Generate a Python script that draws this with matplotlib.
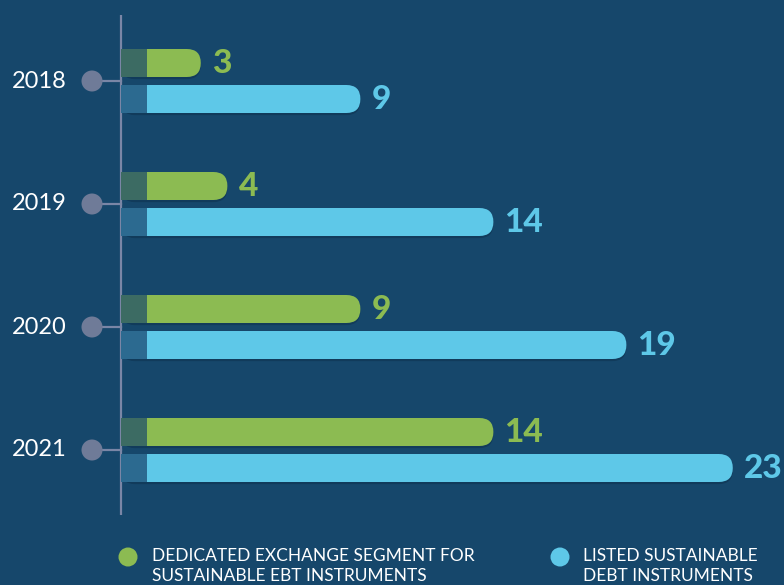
import matplotlib.pyplot as plt
from matplotlib.patches import FancyBboxPatch, Rectangle, Circle

plt.rcParams["font.family"] = ["Lato", "DejaVu Sans"]

# data
years = ["2018", "2019", "2020", "2021"]
segment_counts = [3, 4, 9, 14]       # dedicated exchange segment
listed_counts = [9, 14, 19, 23]      # listed sustainable debt instruments
legend_labels = [
    "DEDICATED EXCHANGE SEGMENT FOR\nSUSTAINABLE EBT INSTRUMENTS",
    "LISTED SUSTAINABLE\nDEBT INSTRUMENTS",
]

# colours
bg = "#16476b"
green = "#8cbb52"
green_dark = "#3c6b63"
blue = "#5ec8e8"
blue_dark = "#2c6a90"
axis_col = "#7a86a6"
dot_col = "#6f7b98"
shadow = "#113b5b"

W, H = 784, 585
px = 26.6  # pixels per unit (equal aspect)

fig = plt.figure(figsize=(W / 100, H / 100), dpi=100, facecolor=bg)
ax = fig.add_axes([0, 0, 1, 1])
ax.set_facecolor(bg)
ax.set_xlim(-121 / px, (W - 121) / px)
ax.set_ylim(H / px, 0)
ax.set_aspect("equal")
ax.axis("off")

row0 = 81 / px
row_step = 123 / px
off = 18 / px
bh = 28 / px
dark_w = 26 / px

# axis line
ax.plot([0, 0], [15 / px, 515 / px], color=axis_col, lw=1.6, solid_capstyle="butt", zorder=2)


def draw_bar(yc, val, col, dcol):
    # shadow
    ax.add_patch(FancyBboxPatch((0, yc - bh / 2 + 0.08), val, bh,
                                boxstyle=f"round,pad=0,rounding_size={bh / 2}",
                                fc=shadow, ec="none", zorder=2))
    ax.add_patch(FancyBboxPatch((0, yc - bh / 2), val, bh,
                                boxstyle=f"round,pad=0,rounding_size={bh / 2}",
                                fc=col, ec="none", zorder=3))
    ax.add_patch(Rectangle((0, yc - bh / 2), dark_w, bh, fc=dcol, ec="none", zorder=4))
    ax.text(val + 0.42, yc + 0.03, str(val), color=col, fontsize=24, fontweight="black",
            va="center", ha="left", zorder=5)


for i, yr in enumerate(years):
    yr_c = row0 + i * row_step
    draw_bar(yr_c - off, segment_counts[i], green, green_dark)
    draw_bar(yr_c + off, listed_counts[i], blue, blue_dark)
    # connector + dot
    ax.plot([-(121 - 92) / px, 0], [yr_c, yr_c], color=axis_col, lw=1.6, zorder=2)
    ax.add_patch(Circle((-(121 - 92) / px, yr_c), 10.5 / px, fc=dot_col, ec="none", zorder=3))
    ax.text(-(121 - 67) / px, yr_c, yr, color="white", fontsize=17,
            ha="right", va="center", zorder=5)

# legend
leg_y = 557 / px
for (cx, tx), lab, col in zip([(128, 152), (560, 583)], legend_labels, [green, blue]):
    ax.add_patch(Circle(((cx - 121) / px, leg_y), 9.5 / px, fc=col, ec="none", zorder=3))
    ax.text((tx - 121) / px, leg_y - 9 / px, lab, color="white", fontsize=12.5,
            ha="left", va="top", linespacing=1.3, zorder=5)

fig.savefig("out.png", dpi=100, facecolor=bg)
